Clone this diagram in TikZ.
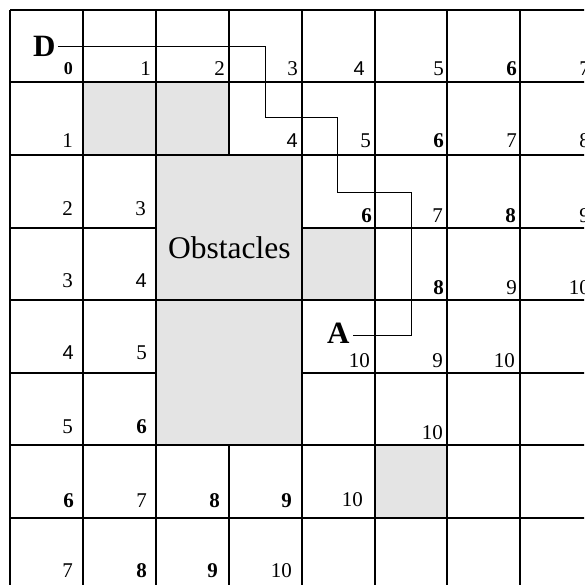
\documentclass[tikz,border=0pt]{standalone}
\usepackage{fontspec}
\setmainfont{Liberation Serif}
\newfontfamily\arialf{Liberation Sans}
\definecolor{obst}{RGB}{228,228,228}
\tikzset{
  num/.style={font=\fontsize{21}{21}\selectfont, inner sep=0pt, anchor=base east},
  numb/.style={num, font=\fontsize{21}{21}\selectfont\bfseries},
  nums/.style={num, font=\fontsize{20}{20}\selectfont\arialf},
  gridline/.style={line width=1.5pt, black},
  pathline/.style={line width=1pt, black},
  biglabel/.style={font=\fontsize{31}{31}\selectfont\bfseries, inner sep=0pt, anchor=base west},
}
\begin{document}
\begin{tikzpicture}[x=1pt, y=-1pt]
\useasboundingbox (0,0) rectangle (584,585);
\clip (0,0) rectangle (584,585);
% grey cells
\fill[obst] (83,82) rectangle (229,155);
\fill[obst] (302,228) rectangle (375,300);
\fill[obst] (375,445) rectangle (447,518);
% grid
\foreach \x in {10,83,156,229,302,375,447,520} \draw[gridline] (\x,10) -- (\x,600);
\foreach \y in {10,82,155,228,300,373,445,518} \draw[gridline] (10,\y) -- (600,\y);
% big obstacle blocks (cover inner lines)
\fill[obst] (157,156) rectangle (301,299.2);
\fill[obst] (157,300.8) rectangle (301,444);
\node[font=\fontsize{31.5}{31.5}\selectfont, inner sep=0pt, anchor=base west] (obs) at (168,258) {Obstacles};
% labels D and A
\node[biglabel, inner sep=2pt] (D) at (31,57) {D};
\node[biglabel, inner sep=3pt] (A) at (324,343) {A};
\coordinate (p1) at (265,46.5);
\coordinate (p2) at (265,118);
\coordinate (p3) at (337,118);
\coordinate (p4) at (337,193);
\coordinate (p5) at (411,193);
\coordinate (p6) at (411,335);
\draw[pathline] (D.east |- p1) -- (p1) -- (p2) -- (p3) -- (p4) -- (p5) -- (p6) -- (A.east |- p6);
% row 0
\node[numb, font=\fontsize{18}{18}\selectfont\bfseries] (r0c0) at (73,75) {0};
\node[num] (r0c1) at (151,76) {1};
\node[num] (r0c2) at (225,76) {2};
\node[num] (r0c3) at (298,76) {3};
\node[nums] (r0c4) at (365,76) {4};
\node[num] (r0c5) at (444,76) {5};
\node[numb] (r0c6) at (517,76) {6};
\node[num] (r0c7) at (590,76) {7};
% row 1
\node[num] (r1c0) at (73,148) {1};
\node[nums] (r1c3) at (298,148) {4};
\node[num] (r1c4) at (371,148) {5};
\node[numb] (r1c5) at (444,148) {6};
\node[num] (r1c6) at (517,148) {7};
\node[num] (r1c7) at (590,148) {8};
% row 2
\node[num] (r2c0) at (73,215) {2};
\node[num] (r2c1) at (146,215) {3};
\node[numb] (r2c4) at (372,222) {6};
\node[num] (r2c5) at (443,222) {7};
\node[numb] (r2c6) at (516,222) {8};
\node[num] (r2c7) at (590,222) {9};
% row 3
\node[num] (r3c0) at (73,287) {3};
\node[nums] (r3c1) at (147,287) {4};
\node[numb] (r3c5) at (444,294) {8};
\node[num] (r3c6) at (517,294) {9};
\node[num] (r3c7) at (590,294) {10};
% row 4
\node[nums] (r4c0) at (74,359) {4};
\node[num] (r4c1) at (147,359) {5};
\node[num] (r4c4) at (370,367) {10};
\node[num] (r4c5) at (443,367) {9};
\node[num] (r4c6) at (515,367) {10};
% row 5
\node[num] (r5c0) at (73,433) {5};
\node[numb] (r5c1) at (147,433) {6};
\node[num] (r5c5) at (443,439) {10};
% row 6
\node[numb] (r6c0) at (74,507) {6};
\node[num] (r6c1) at (147,507) {7};
\node[numb] (r6c2) at (220,507) {8};
\node[numb] (r6c3) at (292,507) {9};
\node[num] (r6c4) at (363,506) {10};
% row 7
\node[num] (r7c0) at (73,577) {7};
\node[numb] (r7c1) at (147,577) {8};
\node[numb] (r7c2) at (218,577) {9};
\node[num] (r7c3) at (292,577) {10};
\end{tikzpicture}
\end{document}
